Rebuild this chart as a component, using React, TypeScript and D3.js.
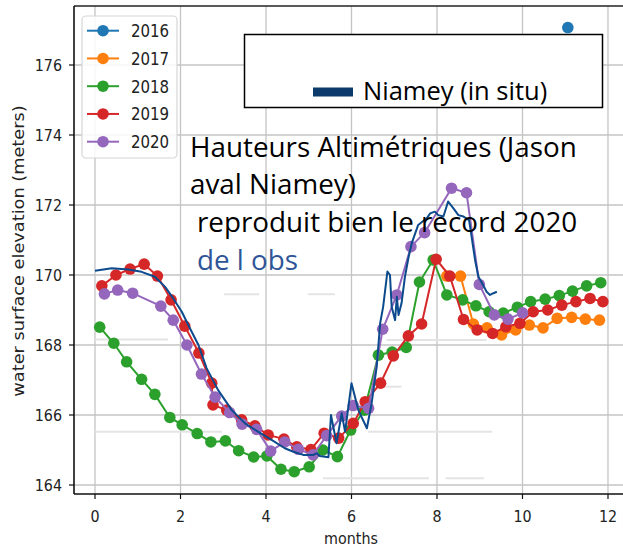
import React from "react";
import * as d3 from "d3";

const W = 623;
const H = 552;

const yTicks = [164, 166, 168, 170, 172, 174, 176];
const xTicks = [0, 2, 4, 6, 8, 10, 12];
const years = ["2016", "2017", "2018", "2019", "2020"];
const colors = ["#1f77b4", "#ff7f0e", "#2ca02c", "#d62728", "#9467bd"];

const m2016 = [11.06];
const v2016 = [177.07];

const m2017 = [8.23, 8.55, 8.85, 9.17, 9.51, 9.84, 10.16, 10.48, 10.81, 11.15, 11.47, 11.8];
const v2017 = [169.97, 169.97, 168.6, 168.49, 168.29, 168.43, 168.57, 168.49, 168.76, 168.79, 168.74, 168.71];

const m2018 = [0.11, 0.44, 0.74, 1.09, 1.4, 1.75, 2.04, 2.39, 2.71, 3.05, 3.36, 3.71, 4.02, 4.35, 4.66, 5.01, 5.33, 5.67, 5.98, 6.3, 6.63, 6.95, 7.28, 7.59, 7.91, 8.23, 8.6, 8.91, 9.22, 9.55, 9.88, 10.19, 10.53, 10.86, 11.17, 11.5, 11.83];
const v2018 = [168.51, 168.05, 167.52, 167.02, 166.59, 165.93, 165.72, 165.47, 165.23, 165.26, 164.98, 164.8, 164.83, 164.45, 164.38, 164.52, 165.0, 164.81, 165.57, 166.14, 167.71, 167.8, 167.93, 169.8, 170.43, 169.43, 169.29, 169.12, 168.95, 168.91, 169.08, 169.24, 169.31, 169.41, 169.54, 169.69, 169.78];

const m2019 = [0.16, 0.49, 0.82, 1.15, 1.46, 1.78, 2.1, 2.43, 2.73, 2.76, 3.08, 3.43, 3.74, 4.05, 4.42, 4.72, 5.05, 5.36, 5.7, 6.04, 6.32, 6.68, 6.98, 7.33, 7.64, 7.98, 8.3, 8.62, 8.94, 9.3, 9.61, 9.94, 10.25, 10.59, 10.92, 11.25, 11.58, 11.88];
const v2019 = [169.69, 170.0, 170.17, 170.31, 169.97, 169.29, 168.54, 167.77, 166.91, 166.29, 166.14, 165.86, 165.69, 165.43, 165.31, 165.09, 165.01, 165.48, 165.34, 165.76, 166.38, 166.91, 167.69, 168.26, 168.6, 170.45, 169.97, 168.73, 168.43, 168.33, 168.52, 168.62, 168.95, 169.0, 169.14, 169.24, 169.33, 169.24];

const m2020 = [0.22, 0.53, 0.88, 1.54, 1.83, 2.15, 2.49, 2.81, 3.15, 3.44, 3.78, 4.11, 4.44, 4.76, 5.1, 5.42, 5.77, 6.04, 6.4, 6.73, 7.06, 7.39, 7.71, 8.34, 8.69, 8.99, 9.34, 9.66, 10.0];
const v2020 = [169.46, 169.57, 169.48, 169.11, 168.71, 168.0, 167.17, 166.51, 166.07, 165.74, 165.59, 164.97, 165.23, 165.02, 164.86, 165.41, 165.97, 166.27, 166.19, 168.45, 169.43, 170.81, 171.21, 172.48, 172.35, 169.73, 168.86, 168.74, 168.92];

const mInSitu = [0.0, 0.39, 0.78, 1.09, 1.4, 1.64, 1.83, 2.03, 2.22, 2.42, 2.61, 2.88, 3.2, 3.51, 3.82, 4.13, 4.44, 4.64, 4.87, 5.11, 5.19, 5.26, 5.46, 5.52, 5.65, 5.77, 5.85, 6.0, 6.16, 6.36, 6.47, 6.59, 6.67, 6.74, 6.84, 6.9, 6.94, 7.02, 7.06, 7.1, 7.17, 7.25, 7.33, 7.41, 7.56, 7.76, 7.84, 7.95, 8.03, 8.15, 8.26, 8.38, 8.5, 8.62, 8.75, 8.81, 8.89, 8.97, 9.08, 9.16, 9.24, 9.32, 9.4];
const vInSitu = [170.12, 170.19, 170.16, 170.09, 169.95, 169.66, 169.33, 168.95, 168.48, 168.0, 167.34, 166.71, 166.14, 165.76, 165.52, 165.29, 165.05, 164.95, 164.86, 164.86, 164.91, 164.83, 164.79, 166.0, 165.19, 166.05, 165.52, 166.91, 166.14, 165.62, 166.33, 167.38, 168.62, 169.09, 170.1, 170.0, 169.09, 168.71, 169.38, 168.86, 169.19, 169.95, 170.48, 170.91, 171.43, 171.62, 171.76, 171.81, 171.71, 171.67, 172.1, 171.91, 171.71, 171.67, 171.57, 171.09, 170.43, 169.95, 169.71, 169.52, 169.43, 169.48, 169.52];

// faint leftover strokes visible in the picture
const ghostStart = [3.02, 4.98, 0.0, 6.82, 6.74, 0.0, 6.39, 5.33, 8.2];
const ghostEnd = [3.84, 5.61, 1.71, 9.16, 7.17, 2.97, 9.29, 7.81, 9.1];
const ghostValue = [169.45, 169.45, 168.16, 168.14, 166.81, 165.52, 165.52, 164.19, 164.19];

const annotationLines = ["Hauteurs Altimétriques (Jason", "aval Niamey)", " reproduit bien le record 2020", " de l obs"];
const inSituLabel = "Niamey (in situ)";

const series = [
  { m: m2016, v: v2016 },
  { m: m2017, v: v2017 },
  { m: m2018, v: v2018 },
  { m: m2019, v: v2019 },
  { m: m2020, v: v2020 },
];

const STRETCH = 1.16;

function SText(props: any) {
  const { x, y, size, anchor, fill, rotate, children } = props;
  return (
    <text
      transform={`translate(${x},${y}) scale(1,${STRETCH})${rotate ? ` rotate(${rotate})` : ""}`}
      fontSize={size}
      textAnchor={anchor || "start"}
      fill={fill || "#222"}
      fontFamily="'DejaVu Sans', sans-serif"
    >
      {children}
    </text>
  );
}

export default function App() {
  const left = 74, top = 6, right = 640, bottom = 494;
  const x = d3.scaleLinear().domain([0, 12]).range([95, 608]);
  const y = d3.scaleLinear().domain([164, 176]).range([485, 65]);
  const line = d3
    .line<[number, number]>()
    .x((d) => x(d[0]))
    .y((d) => y(d[1]));

  const inSitu = d3.zip(mInSitu, vInSitu) as [number, number][];
  const annFont = "'Open Sans', Lato, sans-serif";

  return (
    <svg
      width={W}
      height={H}
      style={{ position: "absolute", left: 0, top: 0, display: "block", background: "#fff" }}
    >
      <defs>
        <clipPath id="plot">
          <rect x={left} y={top} width={right - left} height={bottom - top} />
        </clipPath>
      </defs>
      <rect x={0} y={0} width={W} height={H} fill="#fff" />

      {/* grid */}
      {xTicks.map((t) => (
        <line key={"gx" + t} x1={x(t)} x2={x(t)} y1={top} y2={bottom} stroke="#c4c4c4" strokeWidth={1.3} />
      ))}
      {yTicks.map((t) => (
        <line key={"gy" + t} x1={left} x2={right} y1={y(t)} y2={y(t)} stroke="#c4c4c4" strokeWidth={1.3} />
      ))}

      {/* faint leftover strokes */}
      {ghostStart.map((s, i) => (
        <line
          key={"gh" + i}
          x1={x(s)}
          x2={x(ghostEnd[i])}
          y1={y(ghostValue[i])}
          y2={y(ghostValue[i])}
          stroke="#e4e4e4"
          strokeWidth={2}
        />
      ))}

      {/* series */}
      <g clipPath="url(#plot)">
        {series.map((s, i) => {
          const pts = d3.zip(s.m, s.v) as [number, number][];
          return (
            <g key={"s" + i}>
              <path d={line(pts) || ""} fill="none" stroke={colors[i]} strokeWidth={2} />
              {pts.map((p, j) => (
                <circle key={j} cx={x(p[0])} cy={y(p[1])} r={5.8} fill={colors[i]} />
              ))}
            </g>
          );
        })}
        <path d={line(inSitu) || ""} fill="none" stroke="#0b4a8c" strokeWidth={2} strokeLinejoin="round" />
      </g>

      {/* spines */}
      <line x1={left} x2={right} y1={top} y2={top} stroke="#222" strokeWidth={1.6} />
      <line x1={left} x2={left} y1={top} y2={bottom} stroke="#111" strokeWidth={1.6} />
      <line x1={left} x2={right} y1={bottom} y2={bottom} stroke="#111" strokeWidth={1.6} />

      {/* ticks */}
      {yTicks.map((t) => (
        <g key={"yt" + t}>
          <line x1={left - 5} x2={left} y1={y(t)} y2={y(t)} stroke="#111" strokeWidth={1.2} />
          <SText x={62} y={y(t) + 6} size={14.3} anchor="end">
            {t}
          </SText>
        </g>
      ))}
      {xTicks.map((t) => (
        <g key={"xt" + t}>
          <line x1={x(t)} x2={x(t)} y1={bottom} y2={bottom + 5} stroke="#111" strokeWidth={1.2} />
          <SText x={x(t)} y={522} size={14.3} anchor="middle">
            {t}
          </SText>
        </g>
      ))}

      <SText x={351} y={544} size={14.3} anchor="middle">
        months
      </SText>
      <SText x={23.5} y={251} size={15.3} anchor="middle" rotate={-90}>
        water surface elevation (meters)
      </SText>

      {/* matplotlib legend */}
      <rect x={82} y={16} width={95} height={142} rx={4} fill="#fff" fillOpacity={0.85} stroke="#d6d6d6" strokeWidth={1.2} />
      {years.map((yr, i) => {
        const cy = 30.7 + 27.75 * i;
        return (
          <g key={"lg" + yr}>
            <line x1={87} x2={119} y1={cy} y2={cy} stroke={colors[i]} strokeWidth={2} />
            <circle cx={103} cy={cy} r={5.8} fill={colors[i]} />
            <SText x={131} y={cy + 6.3} size={15} anchor="start">
              {yr}
            </SText>
          </g>
        );
      })}

      {/* in situ legend box */}
      <rect x={244.5} y={34.5} width={358} height={73} fill="#fff" stroke="#000" strokeWidth={1.5} />
      <rect x={313} y={87.5} width={40} height={9} fill="#0b3a6b" />
      <text x={363} y={100} fontSize={25.5} fontFamily={annFont} fill="#000">
        {inSituLabel}
      </text>

      {/* annotation */}
      {annotationLines.map((t, i) => (
        <text
          key={"an" + i}
          x={t.startsWith(" ") ? 197 : 190}
          y={156.7 + 37.6 * i}
          fontSize={27.8}
          fontFamily={annFont}
          fill={i === 3 ? "#2f5597" : "#000"}
        >
          {t.trim()}
        </text>
      ))}
    </svg>
  );
}
